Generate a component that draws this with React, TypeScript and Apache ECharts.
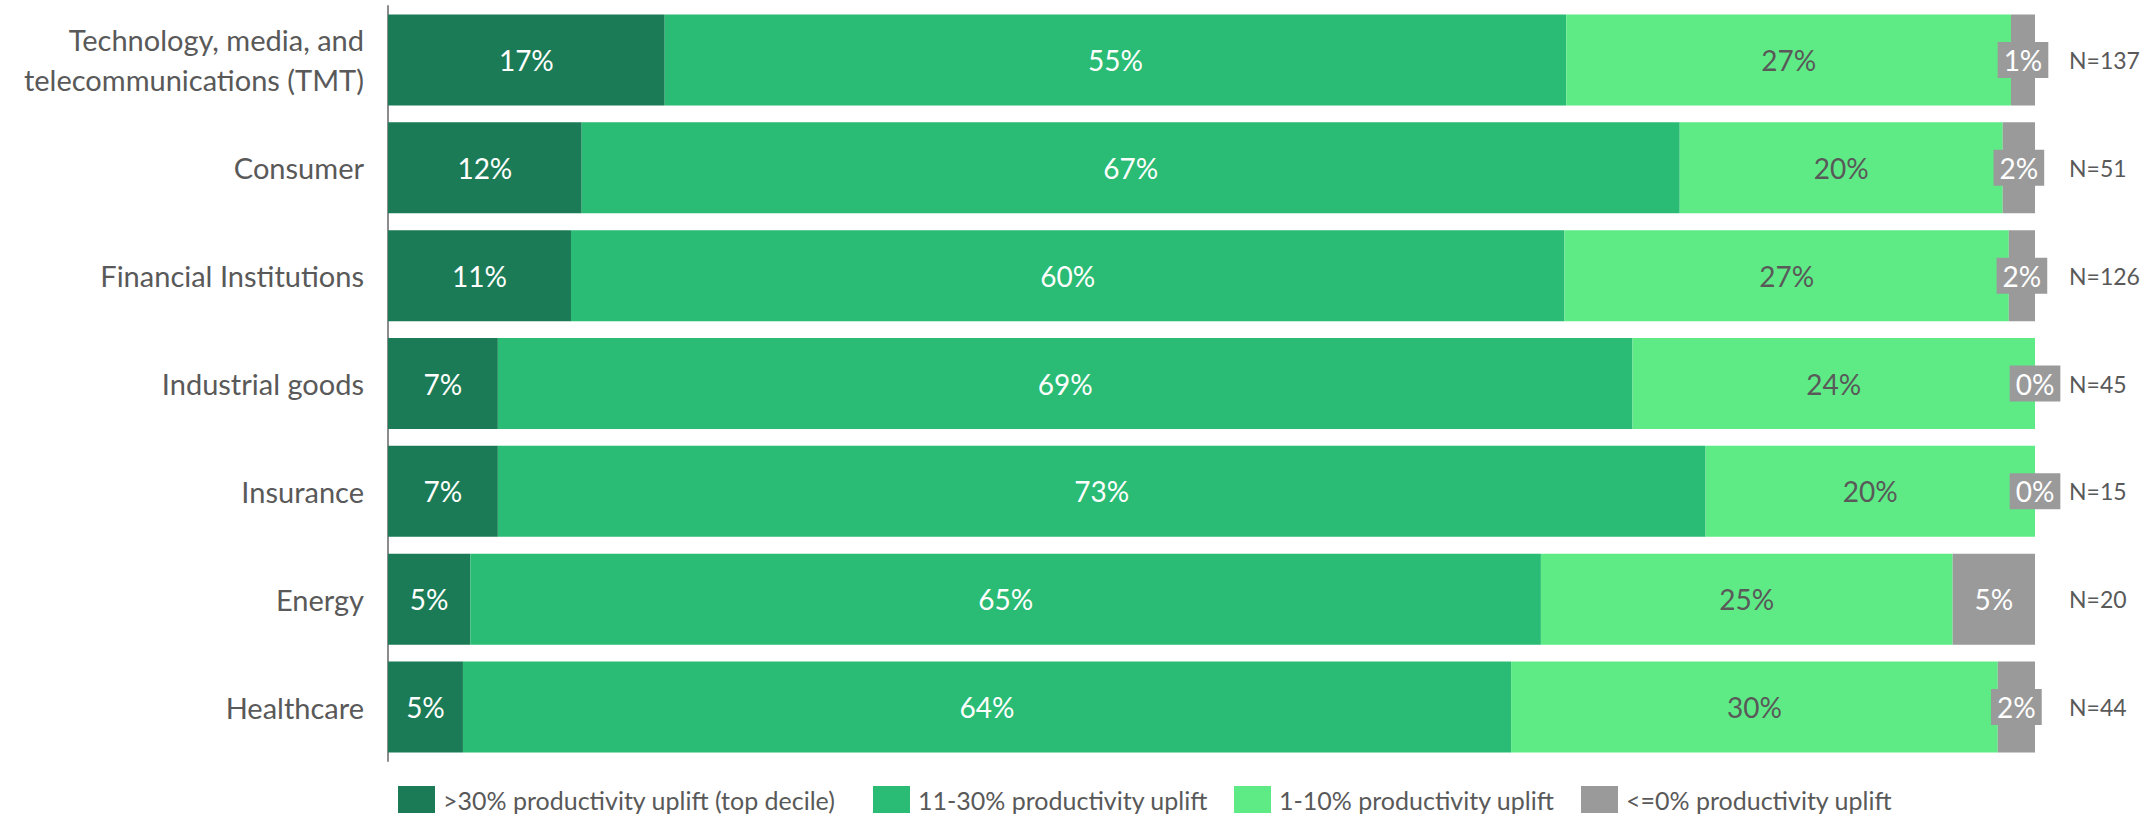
import React, { useEffect, useRef } from "react";
import * as echarts from "echarts";

const categories = [
  "Technology, media, and\ntelecommunications (TMT)",
  "Consumer",
  "Financial Institutions",
  "Industrial goods",
  "Insurance",
  "Energy",
  "Healthcare",
];
const sampleSizes = ["N=137", "N=51", "N=126", "N=45", "N=15", "N=20", "N=44"];
const seriesNames = [
  ">30% productivity uplift (top decile)",
  "11-30% productivity uplift",
  "1-10% productivity uplift",
  "<=0% productivity uplift",
];
const topDecile = [16.8, 11.76, 11.11, 6.67, 6.67, 5, 4.55];
const uplift11to30 = [54.74, 66.67, 60.32, 68.89, 73.33, 65, 63.64];
const uplift1to10 = [27.0, 19.61, 26.98, 24.44, 20.0, 25, 29.55];
const upliftNone = [1.46, 1.96, 1.59, 0, 0, 5, 2.26];

const colors = ["#1b7b56", "#2abb74", "#5eeb86", "#9a9a9a"];
const FONT = "Lato, 'Open Sans', sans-serif";
const TEXT = "#595959";

export default function App() {
  const ref = useRef<HTMLDivElement>(null);
  useEffect(() => {
    if (!ref.current) return;
    const chart = echarts.init(ref.current, undefined, { renderer: "svg" });
    const values = [topDecile, uplift11to30, uplift1to10, upliftNone];
    const labelStyles = [
      { color: "#ffffff" },
      { color: "#ffffff" },
      { color: TEXT },
      { color: "#ffffff", backgroundColor: colors[3], padding: [5, 6, 3, 6] },
    ];
    const legendLefts = [393, 868, 1229, 1576];
    chart.setOption({
      animation: false,
      textStyle: { fontFamily: FONT },
      grid: { left: 388, width: 1647, top: 6, height: 755, containLabel: false },
      xAxis: { type: "value", min: 0, max: 100, show: false },
      yAxis: [
        {
          type: "category",
          data: categories,
          inverse: true,
          axisTick: { show: false },
          axisLine: { show: true, lineStyle: { color: "#8c8c8c", width: 2 } },
          axisLabel: {
            fontSize: 29,
            color: TEXT,
            margin: 24,
            lineHeight: 40,
            padding: [7, 0, 0, 0],
            fontFamily: FONT,
          },
        },
        {
          type: "category",
          data: sampleSizes,
          inverse: true,
          position: "right",
          axisTick: { show: false },
          axisLine: { show: false },
          axisLabel: { fontSize: 23, color: TEXT, margin: 34, fontFamily: FONT },
        },
      ],
      legend: seriesNames.map((name, i) => ({
        data: [name],
        left: legendLefts[i],
        top: 781,
        itemWidth: 37,
        itemHeight: 27,
        icon: "rect",
        textStyle: { fontSize: 25, color: TEXT, fontFamily: FONT, padding: [0, 0, 0, 3] },
      })),
      series: seriesNames.map((name, i) => ({
        name,
        type: "bar",
        stack: "total",
        barWidth: 91,
        data: values[i],
        itemStyle: { color: colors[i] },
        label: {
          show: true,
          position: "inside",
          fontSize: 28,
          fontFamily: FONT,
          formatter: (p: any) => Math.round(p.value) + "%",
          ...labelStyles[i],
        },
      })),
    });
    return () => chart.dispose();
  }, []);
  return (
    <div
      ref={ref}
      style={{ position: "absolute", left: 0, top: 0, width: 2156, height: 817 }}
    />
  );
}
